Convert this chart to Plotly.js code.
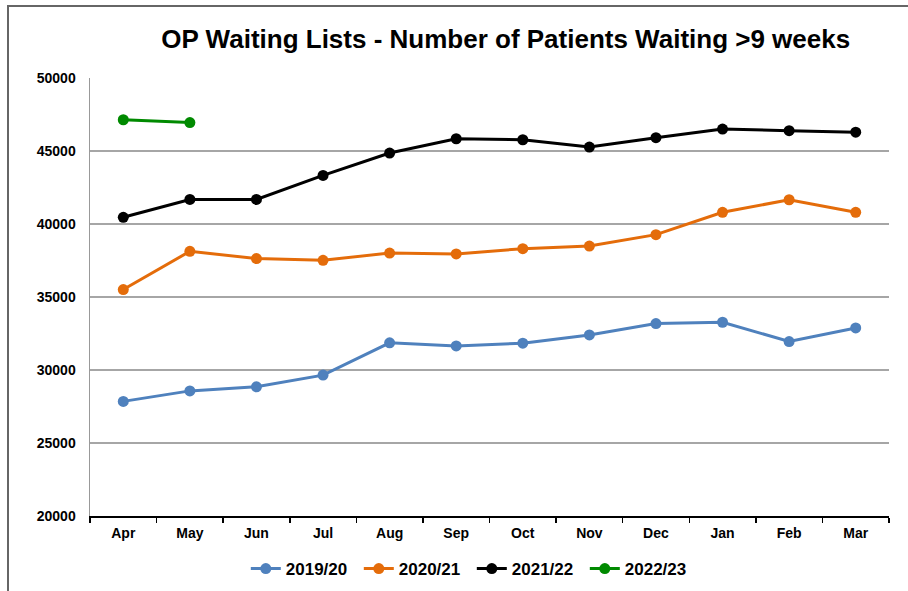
<!DOCTYPE html>
<html>
<head>
<meta charset="utf-8">
<script src="https://cdn.plot.ly/plotly-3.0.1.min.js"></script>
<style>
html,body{margin:0;padding:0;background:#fff;}
#chart{width:908px;height:591px;position:absolute;left:0;top:0;}
#frame{position:absolute;left:7px;top:5px;width:910px;height:600px;border-left:2px solid #666;border-top:2px solid #666;pointer-events:none;}
</style>
</head>
<body>
<div id="chart"></div>
<div id="frame"></div>
<script>
const months = ["Apr","May","Jun","Jul","Aug","Sep","Oct","Nov","Dec","Jan","Feb","Mar"];
const seriesNames = ["2019/20","2020/21","2021/22","2022/23"];
const v2019 = [27850,28570,28850,29650,31860,31650,31840,32400,33180,33270,31950,32880];
const v2020 = [35510,38130,37630,37510,38010,37950,38310,38490,39270,40800,41660,40800];
const v2021 = [40460,41680,41680,43330,44860,45840,45770,45270,45910,46500,46390,46290];
const v2022 = [47140,46950];
const colors = ["#4f81bd","#e46c0a","#000000","#008a00"];
const yTicks = [20000,25000,30000,35000,40000,45000,50000];

const allVals = [v2019,v2020,v2021,v2022];
const traces = allVals.map((vals,i)=>({
  type:"scatter",
  mode:"lines+markers",
  name:seriesNames[i],
  x:months.slice(0,vals.length),
  y:vals,
  line:{color:colors[i],width:3},
  marker:{color:colors[i],size:11}
}));

const layout = {
  width:908,height:591,
  margin:{l:90,r:19,t:78,b:75,autoexpand:false},
  paper_bgcolor:"#fff",plot_bgcolor:"#fff",
  font:{family:"Liberation Sans, Arial, sans-serif",color:"#000"},
  title:{text:"<b>OP Waiting Lists - Number of Patients Waiting >9 weeks</b>",
    font:{size:26,color:"#000"},xref:"container",x:0.557,xanchor:"center",
    yref:"container",y:0.935,yanchor:"middle"},
  xaxis:{type:"category",categoryarray:months,categoryorder:"array",
    range:[-0.5,11.5],showline:true,linecolor:"#000",linewidth:1.5,
    ticks:"outside",tickson:"boundaries",ticklen:5,tickcolor:"#000",tickwidth:1.5,
    ticklabelstandoff:4,
    showgrid:false,zeroline:false,
    tickfont:{size:14,color:"#000",weight:"bold"}},
  yaxis:{range:[20000,50000],tickvals:yTicks,ticktext:yTicks.map(String),
    showline:true,linecolor:"#999",linewidth:1.5,
    showgrid:true,gridcolor:"#a6a6a6",gridwidth:1.5,zeroline:false,
    ticks:"",ticklabelstandoff:10,
    tickfont:{size:14,color:"#000",weight:"bold"}},
  showlegend:true,
  legend:{orientation:"h",x:0.195,xanchor:"left",y:-0.121,yanchor:"middle",
    entrywidth:68,entrywidthmode:"pixels",
    font:{size:17,color:"#000",weight:"bold"},bgcolor:"rgba(0,0,0,0)"}
};
Plotly.newPlot("chart",traces,layout,{displayModeBar:false,staticPlot:true});
</script>
</body>
</html>
